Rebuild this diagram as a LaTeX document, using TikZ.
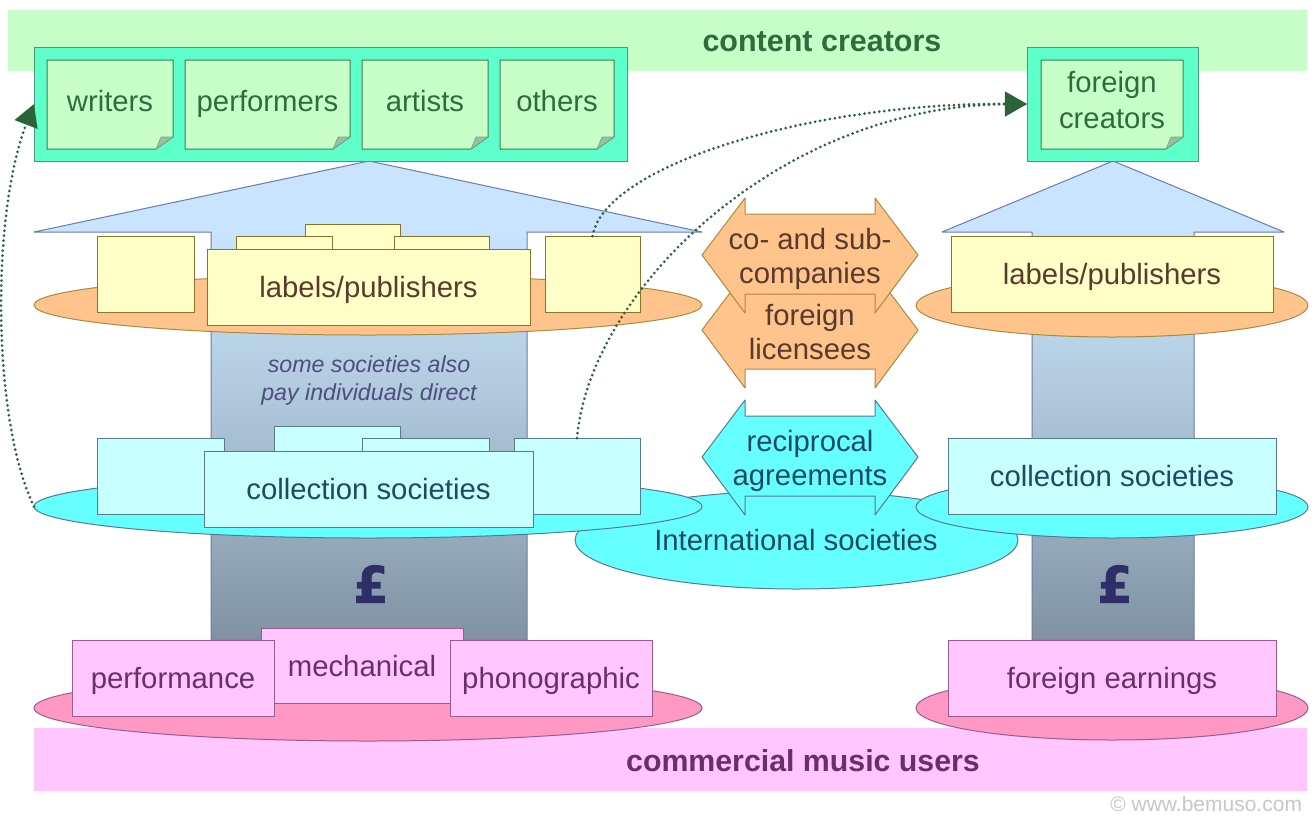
\documentclass[tikz,border=0pt]{standalone}
\usepackage{fontspec}
\setmainfont{Liberation Sans}
\newfontfamily\poundfont[FakeBold=2]{DejaVu Sans Bold}
\usetikzlibrary{shapes.geometric,arrows.meta,calc}
\definecolor{bandgreen}{HTML}{C8FFC8}
\definecolor{mint}{HTML}{5FFFCC}
\definecolor{mintline}{HTML}{4A9A78}
\definecolor{noteline}{HTML}{3F7F4F}
\definecolor{foldc}{HTML}{9CBF9C}
\definecolor{txtgreen}{HTML}{2F6B3F}
\definecolor{yel}{HTML}{FFFFC8}
\definecolor{yelline}{HTML}{8A7428}
\definecolor{txtbrown}{HTML}{5A3A2C}
\definecolor{orng}{HTML}{FFC48C}
\definecolor{orngline}{HTML}{A88A40}
\definecolor{cyb}{HTML}{C8FFFF}
\definecolor{cybline}{HTML}{567A8E}
\definecolor{cye}{HTML}{66FFFF}
\definecolor{txtblue}{HTML}{1F4A62}
\definecolor{pnk}{HTML}{FFC6FF}
\definecolor{pnkline}{HTML}{9A5C90}
\definecolor{pnke}{HTML}{FF99C4}
\definecolor{txtpurple}{HTML}{6A2F6A}
\definecolor{headline}{HTML}{6C7CA8}
\definecolor{navy}{HTML}{2F2F68}
\definecolor{dotc}{HTML}{2F5F3F}
\definecolor{arrc}{HTML}{2A6438}
\definecolor{shA}{HTML}{C8E4FF}
\definecolor{shD}{HTML}{B8D2E6}
\definecolor{shB}{HTML}{B0C8DC}
\definecolor{shC}{HTML}{8092A2}
\pgfdeclareverticalshading{flow}{100bp}{color(0bp)=(shC); color(25bp)=(shC); color(50bp)=(shB); color(56bp)=(shD); color(68bp)=(shA); color(100bp)=(shA)}
\tikzset{
  x=1pt,y=-1pt,
  base/.style={inner sep=0pt,outer sep=0pt,line width=1pt,align=center,font=\fontsize{29.3}{34.5}\selectfont},
  sline/.style={text height=27pt,text depth=6pt},
  band/.style={base,fill=#1},
  yelbox/.style={base,sline,draw=yelline,fill=yel,text=txtbrown},
  cybox/.style={base,sline,draw=cybline,fill=cyb,text=txtblue},
  pkbox/.style={base,sline,draw=pnkline,fill=pnk,text=txtpurple},
  holder/.style={base,draw=mintline,fill=mint},
  notetext/.style={base,text height=19pt,text depth=6pt,text=txtgreen},
  disc/.style={base,ellipse},
  flowarrow/.style={draw=headline,line width=1pt,line join=round,shading=flow},
  dbl/.style={draw=#1,line width=1pt,line join=round},
  dotlink/.style={draw=dotc,line width=3pt,line cap=round,dash pattern=on 0pt off 5pt,-{Triangle[length=22pt,width=24pt,fill=arrc,color=arrc,line cap=butt]}},
}
% box by corners
\newcommand\bx[7]{%
  \pgfmathsetmacro\bw{#5-#3}\pgfmathsetmacro\bh{#6-#4}%
  \pgfmathsetmacro\bcx{(#5+#3)/2}\pgfmathsetmacro\bcy{(#6+#4)/2}%
  \node[#2,minimum width=\bw pt,minimum height=\bh pt] (#1) at (\bcx,\bcy) {#7};}
% note with a turned-up corner
\newcommand\note[6]{%
  \pgfmathsetmacro\nfx{#5-17}\pgfmathsetmacro\nfy{#6-12}\pgfmathsetmacro\nix{#5-12}%
  \draw[fill=bandgreen,draw=noteline,line width=1pt] (#3,#4) -- (#5,#4) -- (#5,\nfy) -- (\nfx,#6) -- (#3,#6) -- cycle;
  \draw[fill=foldc,draw=noteline!70,line width=.6pt] (#5,\nfy) -- (\nix,\nfy) -- (\nfx,#6) -- cycle;
  \bx{#1}{notetext}{#3}{#4}{#5}{#6}{#2}}
% double-headed block arrow
\newcommand\dblarrow[3]{%
  \pgfmathsetmacro\ta{#3-57}\pgfmathsetmacro\tb{#3-41}\pgfmathsetmacro\tc{#3+39}\pgfmathsetmacro\td{#3+58}%
  \draw[dbl=#1,fill=#2] (702,#3) -- (745,\ta) -- (745,\tb) -- (875,\tb) -- (875,\ta) -- (918,#3) -- (875,\td) -- (875,\tc) -- (745,\tc) -- (745,\td) -- cycle;}
\begin{document}
\begin{tikzpicture}
\useasboundingbox (0,0) rectangle (1315,815);
\fill[white] (0,0) rectangle (1315,815);
% bands
\bx{topband}{band=bandgreen}{8}{10}{1307}{71}{}
\bx{botband}{band=pnk}{34}{728}{1307}{791}{}
\node[base,font=\bfseries\fontsize{30.5}{36}\selectfont,text=txtgreen] (tcreators) at (822,42) {content creators};
% flow arrows
\draw[flowarrow] (369,161) -- (702,232) -- (527,232) -- (527,640) -- (211,640) -- (211,232) -- (34,232) -- cycle;
\draw[flowarrow] (1113,161) -- (1284,232) -- (1194,232) -- (1194,640) -- (1032,640) -- (1032,232) -- (942,232) -- cycle;
% creators
\bx{creators}{holder}{34}{47}{627}{161}{}
\note{writers}{writers}{47}{60}{173}{149}
\note{performers}{performers}{185}{60}{350}{149}
\note{artists}{artists}{362}{60}{488}{149}
\note{others}{others}{500}{60}{614}{149}
\bx{fcreators}{holder}{1027}{47}{1198}{161}{}
\note{fnote}{}{1041}{60}{1183}{149}
\node[base,text=txtgreen,font=\fontsize{29.3}{36}\selectfont] (tfnote) at (1112,100.5) {foreign\\creators};
% discs
\bx{intl}{disc,draw=cybline,fill=cye}{575}{491}{1018}{589}{}
\bx{orangeL}{disc,draw=orngline,fill=orng}{34}{275}{702}{335}{}
\bx{orangeR}{disc,draw=orngline,fill=orng}{916}{274}{1308}{337}{}
\bx{cyanL}{disc,draw=cybline,fill=cye}{34}{475}{702}{538}{}
\bx{cyanR}{disc,draw=cybline,fill=cye}{916}{476}{1308}{538}{}
\bx{pinkL}{disc,draw=pnkline,fill=pnke}{34}{675}{702}{741}{}
\bx{pinkR}{disc,draw=pnkline,fill=pnke}{916}{676}{1308}{740}{}
\node[base,text=txtblue] (tintl) at (796,540) {International societies};
% labels/publishers
\bx{ly1}{yelbox}{97}{236}{194}{312}{}
\bx{ly2}{yelbox}{305}{224}{400}{300}{}
\bx{ly3}{yelbox}{236}{236}{332}{300}{}
\bx{ly4}{yelbox}{394}{236}{489}{300}{}
\bx{ly5}{yelbox}{545}{236}{640}{312}{}
\bx{lymain}{yelbox}{207}{249}{530}{325}{labels/publishers}
\bx{ryr}{yelbox}{951}{236}{1273}{312}{labels/publishers}
% note in the shaft
\node[base,font=\itshape\fontsize{23.2}{28}\selectfont,text=navy!85] (tdirect) at (369,380) {some societies also\\pay individuals direct};
% collection societies
\bx{cs1}{cybox}{97}{438}{224}{514}{}
\bx{cs2}{cybox}{274}{426}{400}{500}{}
\bx{cs3}{cybox}{362}{438}{489}{500}{}
\bx{cs4}{cybox}{514}{438}{640}{514}{}
\bx{csmain}{cybox}{204}{451}{533}{527}{collection societies}
\bx{csr}{cybox}{948}{438}{1276}{514}{collection societies}
% pound signs
\node[base,font=\poundfont\fontsize{50}{50}\selectfont,text=navy] (p1) at (371,584) {£};
\node[base,font=\poundfont\fontsize{50}{50}\selectfont,text=navy] (p2) at (1115,584) {£};
% earnings
\bx{mech}{pkbox}{261}{628}{463}{703}{mechanical}
\bx{perf}{pkbox}{72}{640}{274}{716}{performance}
\bx{phon}{pkbox}{450}{640}{652}{716}{phonographic}
\bx{fearn}{pkbox}{948}{640}{1276}{716}{foreign earnings}
\node[base,font=\bfseries\fontsize{30.3}{36}\selectfont,text=txtpurple] (tusers) at (803,761) {commercial music users};
% block arrows
\dblarrow{orngline}{orng}{330}
\dblarrow{orngline}{orng}{255}
\dblarrow{cybline}{cye}{457}
\node[base,text=txtbrown] (ta2) at (810,332) {foreign\\licensees};
\node[base,text=txtbrown] (ta1) at (810,259) {co- and sub-\\companies};
\node[base,text=txtblue] (ta3) at (810,461) {reciprocal\\agreements};
% dotted links
\draw[dotlink] (cyanL.west) .. controls (-8,420) and (-9,215) .. (creators.west);
\draw[dotlink] (ly5.north) .. controls (605,165) and (810,103) .. (fcreators.west);
\draw[dotlink] (cs4.north) .. controls (590,290) and (780,106) .. (fcreators.west);
% credit
\node[base,font=\fontsize{21}{24}\selectfont,text=black!22,anchor=east] (credit) at (1302,804) {© www.bemuso.com};
\end{tikzpicture}
\end{document}
